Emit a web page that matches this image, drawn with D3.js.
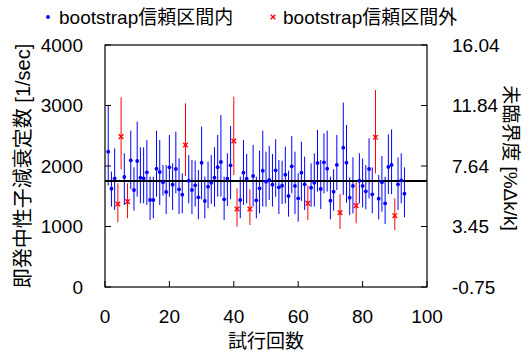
<!DOCTYPE html>
<html><head><meta charset="utf-8">
<script src="https://cdn.jsdelivr.net/npm/d3@7"></script>
<style>
html,body{margin:0;padding:0;background:#fff;}
text{font-family:"Liberation Sans","Noto Sans CJK JP",sans-serif;}
</style></head>
<body>
<svg id="c" width="524" height="352"></svg>
<script>
// ---- data ----
const trials = [1,2,3,4,5,6,7,8,9,10,11,12,13,14,15,16,17,18,19,20,21,22,23,24,25,26,27,28,29,30,31,32,33,34,35,36,37,38,39,40,41,42,43,44,45,46,47,48,49,50,51,52,53,54,55,56,57,58,59,60,61,62,63,64,65,66,67,68,69,70,71,72,73,74,75,76,77,78,79,80,81,82,83,84,85,86,87,88,89,90,91,92,93];
const decay = [2237,1626,1796,1372,2485,1818,1411,2094,1603,2083,1807,1796,1896,1438,1438,1956,1901,1730,1570,1978,1692,1951,1615,1526,2347,1758,1603,1681,1482,2055,1422,1659,1725,1807,1980,2066,1449,1791,2011,2413,1289,1438,1890,1791,1289,1835,1433,1631,1923,1741,1769,1692,1929,1648,1675,1857,1504,1995,1670,1466,1890,1697,1383,1642,1725,2050,1620,2061,1956,1427,1576,2017,1229,2303,2055,1477,1670,1345,1758,1670,1581,1951,1532,2474,1460,1730,1383,1984,2017,1179,1697,1763,1543];
const upper = [2998,1907,2292,1714,3135,2210,1714,2584,1978,2733,2309,2309,2430,1824,1824,2584,2430,2017,2017,2513,2044,2568,2127,1879,3036,2182,2099,2088,1934,2650,1824,2072,2182,2309,2513,2843,1824,2210,2661,3146,1631,1824,2430,2199,1615,2347,1824,2254,2584,2237,2331,2199,2441,2099,2088,2320,1923,2496,2237,1879,2402,2155,1675,2044,2210,2595,2099,2540,2584,1824,1945,2513,1537,3047,2678,1813,2143,1741,2210,2121,2017,2458,1978,3256,1851,2166,1824,2524,2606,1466,2143,2210,1978];
const lower = [1675,1328,1273,1069,1945,1356,1135,1620,1262,1493,1383,1383,1356,1108,1135,1493,1356,1510,1207,1493,1273,1548,1207,1218,1835,1383,1207,1328,1119,1449,1135,1300,1372,1328,1493,1493,1108,1339,1449,1851,997,1135,1356,1383,1025,1328,1135,1218,1328,1328,1438,1328,1493,1207,1372,1383,1163,1548,1207,1080,1422,1273,1108,1328,1328,1576,1289,1548,1576,1119,1262,1603,959,1521,1394,1190,1218,1053,1383,1317,1284,1466,1218,1879,1119,1245,1041,1537,1537,942,1273,1383,1152];
const outsideTrials = [4,5,7,25,40,41,45,63,73,78,84,90];
const meanDecay = 1752;
const xTicks = [0,20,40,60,80,100];
const yTicks = [0,1000,2000,3000,4000];
const rightTickLabels = ["-0.75","3.45","7.64","11.84","16.04"];
const legendLabels = ["bootstrap信頼区間内","bootstrap信頼区間外"];
const xTitle = "試行回数";
const yTitle = "即発中性子減衰定数 [1/sec]";
const y2Title = "未臨界度 [%Δk/k]";

// ---- layout ----
const L=105, R=427, T=45, B=287;
const svg = d3.select("#c");
const x = d3.scaleLinear().domain([0,100]).range([L,R]);
const y = d3.scaleLinear().domain([0,4000]).range([B,T]);
const F = 19;

const pts = trials.map((t,i)=>({t, v:decay[i], hi:upper[i], lo:lower[i], out: outsideTrials.includes(t)}));

// error bars
svg.append("g").selectAll("line").data(pts).join("line")
  .attr("x1",d=>x(d.t)).attr("x2",d=>x(d.t))
  .attr("y1",d=>y(d.hi)).attr("y2",d=>y(d.lo))
  .attr("stroke",d=>d.out?"#ff0000":"#0000ff").attr("stroke-width",1);

// mean line
svg.append("line").attr("x1",L).attr("x2",R).attr("y1",y(meanDecay)).attr("y2",y(meanDecay))
  .attr("stroke","#000").attr("stroke-width",2);

// points
svg.append("g").selectAll("circle").data(pts.filter(d=>!d.out)).join("circle")
  .attr("cx",d=>x(d.t)).attr("cy",d=>y(d.v)).attr("r",1.9).attr("fill","#0000ff");

function cross(g, cx, cy, s){
  g.append("path").attr("d",`M${cx-s},${cy-s}L${cx+s},${cy+s}M${cx-s},${cy+s}L${cx+s},${cy-s}`)
   .attr("stroke","#ff0000").attr("stroke-width",1.4).attr("fill","none");
}
const rg = svg.append("g");
pts.filter(d=>d.out).forEach(d=>cross(rg, x(d.t), y(d.v), 2.3));

// frame
svg.append("rect").attr("x",L).attr("y",T).attr("width",R-L).attr("height",B-T)
  .attr("fill","none").attr("stroke","#000").attr("stroke-width",1.2);

// ticks
const tk = 6;
const ax = svg.append("g");
ax.selectAll(".yl").data(yTicks).join("line").attr("x1",L).attr("x2",L+tk)
  .attr("y1",d=>y(d)).attr("y2",d=>y(d)).attr("stroke","#000");
ax.selectAll(".yr").data(yTicks).join("line").attr("x1",R).attr("x2",R-tk)
  .attr("y1",d=>y(d)).attr("y2",d=>y(d)).attr("stroke","#000");
ax.selectAll(".xb").data(xTicks).join("line").attr("x1",d=>x(d)).attr("x2",d=>x(d))
  .attr("y1",B).attr("y2",B-tk).attr("stroke","#000");

// tick labels
ax.selectAll(".ylab").data(yTicks).join("text").attr("x",83).attr("y",d=>y(d))
  .attr("dy","0.35em").attr("text-anchor","end").attr("font-size",F).text(d=>d);
ax.selectAll(".y2lab").data(yTicks).join("text").attr("x",452).attr("y",d=>y(d))
  .attr("dy","0.35em").attr("text-anchor","start").attr("font-size",F).text((d,i)=>rightTickLabels[i]);
ax.selectAll(".xlab").data(xTicks).join("text").attr("x",d=>x(d)).attr("y",323)
  .attr("text-anchor","middle").attr("font-size",F).text(d=>d);

// titles
svg.append("text").attr("x",266).attr("y",348).attr("text-anchor","middle").attr("font-size",F).text(xTitle);
svg.append("text").attr("transform","translate(30,166) rotate(-90)").attr("text-anchor","middle").attr("font-size",20).text(yTitle);
svg.append("text").attr("transform","translate(504,158) rotate(90)").attr("text-anchor","middle").attr("font-size",F).text(y2Title);

// legend
svg.append("circle").attr("cx",48).attr("cy",17).attr("r",1.9).attr("fill","#0000ff");
svg.append("text").attr("x",59).attr("y",24).attr("font-size",F).text(legendLabels[0]);
cross(svg, 273, 17, 2.3);
svg.append("text").attr("x",283).attr("y",24).attr("font-size",F).text(legendLabels[1]);
</script>
</body></html>
